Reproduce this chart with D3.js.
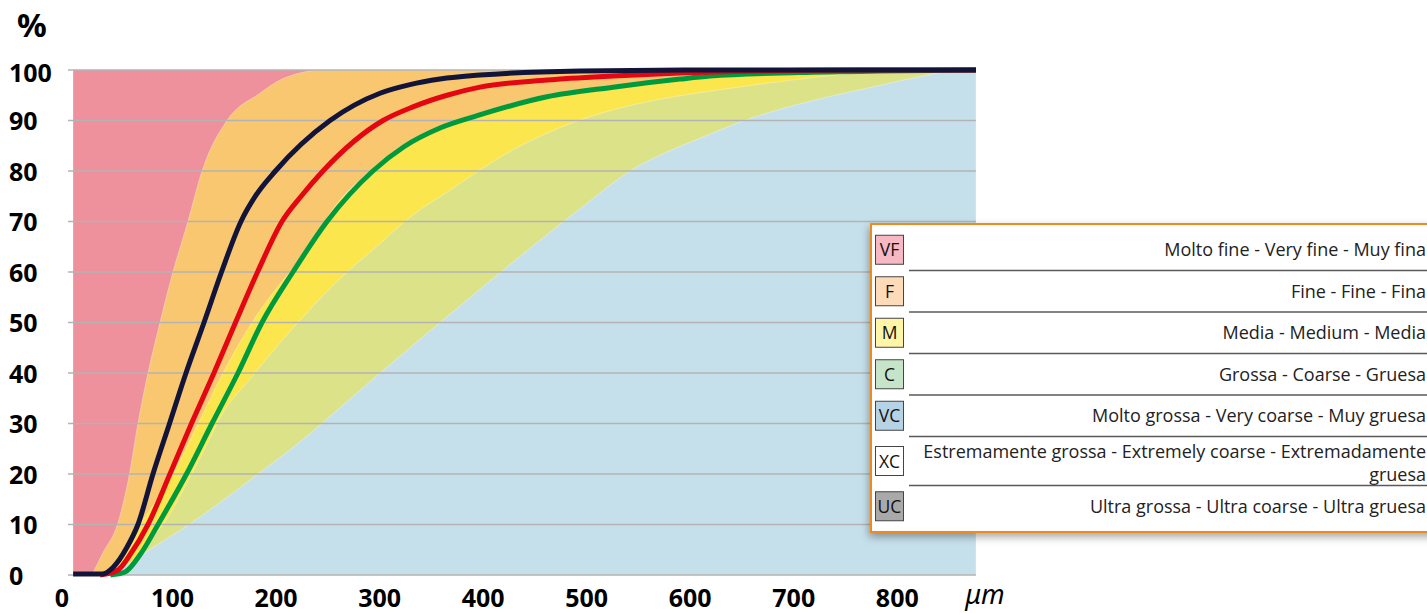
<!DOCTYPE html>
<html>
<head>
<meta charset="utf-8">
<script src="https://cdn.jsdelivr.net/npm/d3@7"></script>
<style>
  body { margin: 0; background: #fff; }
  svg { display: block; }
</style>
</head>
<body>
<svg id="chart" width="1427" height="613"></svg>
<script>
// ---- axis ticks -------------------------------------------------------
const xTicks = [0, 100, 200, 300, 400, 500, 600, 700, 800];
const yTicks = [0, 10, 20, 30, 40, 50, 60, 70, 80, 90, 100];

// ---- band edges: [size µm, cumulative %] -------------------------------
// very fine | fine
const edgeVeryFine = [[22.2, 0], [32.8, 4.4], [46.8, 10], [58.4, 20], [66.6, 30], [76.3, 40], [87.9, 50],
  [100.4, 60], [114.9, 70], [128.5, 80], [152.6, 90], [184.5, 95.4], [203.8, 98], [223.1, 99.4],
  [244.3, 100], [876, 100]];
// fine | medium
const edgeFine = [[37.7, 0], [42.5, 1.6], [54.1, 5], [68.6, 10], [85, 15], [101.4, 20.4], [124.6, 29.9],
  [148.7, 40], [176.7, 50], [213.4, 60], [232.8, 64.4], [247.2, 70], [290.6, 80], [321.6, 84.8],
  [356.4, 88.5], [393.1, 91], [459.7, 94.7], [523.5, 96.6], [588.2, 98.2], [617.2, 98.8], [704, 99.5],
  [781.3, 99.8], [876, 100]];
// medium | coarse
const edgeMedium = [[43.5, 0], [56, 1.6], [73.4, 5.9], [90.8, 10], [116.9, 19.4], [135.2, 26.7], [142.9, 30],
  [179.6, 40], [221.2, 50], [268.5, 60], [293.6, 64.4], [332.2, 71.3], [365.1, 75.8], [396.9, 80.2],
  [428.8, 84.2], [461.7, 87.5], [493.5, 90.1], [525.4, 92.1], [558.2, 93.7], [590.1, 94.9], [619.1, 95.8],
  [667.4, 97.2], [706, 98.2], [761.1, 99.4], [802.6, 99.9], [876, 100]];
// coarse | very coarse
const edgeCoarse = [[42, 0], [73.4, 4.4], [115.9, 10], [182.5, 20], [213.4, 24.8], [300.4, 40], [358.3, 50],
  [417.2, 60], [454.9, 66.3], [498.4, 73.3], [541.8, 80], [582.4, 84.2], [614.3, 86.9], [648.1, 89.7],
  [706, 93.3], [770.7, 96.4], [834.5, 99.2], [855.7, 100], [876, 100]];

// ---- reference grading curves ----------------------------------------
const curveDark = [[4, 0.2], [32, 0.2], [42.5, 1.5], [56, 5.5], [66.6, 10], [81.1, 20], [97.1, 30], [113, 40],
  [130.4, 50], [147.3, 60], [166.1, 70], [180.6, 75.2], [199.4, 80], [252.1, 90], [300.4, 95.4],
  [329.3, 97.1], [358.3, 98.2], [396.9, 99], [493.5, 99.8], [609.4, 100], [876, 100]];
const curveRed = [[30, 0], [47.3, 1], [58.9, 4], [76.3, 10], [97.5, 20], [118.3, 30], [140, 40], [160.8, 50],
  [182.1, 60], [205.7, 70], [225, 75.2], [245.3, 80], [303.3, 90], [332.2, 92.7], [365.1, 95], [397, 96.6],
  [461.7, 98], [525.4, 98.8], [590.1, 99.4], [667.4, 99.8], [764, 100], [876, 100]];
const curveGreen = [[40, 0], [54.1, 0.6], [68.6, 4], [86, 10], [113.5, 20], [138.1, 30], [163.2, 40], [186.4, 50],
  [216.3, 60], [249.2, 70], [293.5, 80], [323.5, 84.8], [358.3, 88.5], [395, 91], [461.7, 94.7],
  [525.4, 96.6], [590.1, 98.2], [619.1, 98.8], [706, 99.5], [783.3, 99.8], [876, 100]];

// ---- legend -----------------------------------------------------------
const legendCodes = ["VF", "F", "M", "C", "VC", "XC", "UC"];
const legendNames = [
  ["Molto fine - Very fine - Muy fina"],
  ["Fine - Fine - Fina"],
  ["Media - Medium - Media"],
  ["Grossa - Coarse - Gruesa"],
  ["Molto grossa - Very coarse - Muy gruesa"],
  ["Estremamente grossa - Extremely coarse - Extremadamente", "gruesa"],
  ["Ultra grossa - Ultra coarse - Ultra gruesa"]
];
const legendColors = ["#f6b8c3", "#fddab8", "#fff5a8", "#c6e4c8", "#b6d2e5", "#ffffff", "#a9a9a9"];

// ---- drawing -----------------------------------------------------------
const svg = d3.select("#chart");
const x = d3.scaleLinear().domain([0, 876]).range([69, 976]);
const y = d3.scaleLinear().domain([0, 100]).range([575, 70]);
const xStart = 4, xEnd = 876;
const smooth = d3.curveMonotoneX;

const defs = svg.append("defs");
const shadow = defs.append("filter").attr("id", "legendShadow")
  .attr("x", "-10%").attr("y", "-10%").attr("width", "120%").attr("height", "130%");
shadow.append("feDropShadow").attr("dx", -1).attr("dy", 4).attr("stdDeviation", 4)
  .attr("flood-color", "#000").attr("flood-opacity", 0.35);

const plot = svg.append("g");

// finest band fills the whole plot, coarser bands are stacked under each edge
plot.append("rect")
  .attr("x", x(xStart)).attr("y", y(100))
  .attr("width", x(xEnd) - x(xStart)).attr("height", y(0) - y(100))
  .attr("fill", "#ee919c");

const band = d3.area()
  .x(d => x(d[0]))
  .y0(y(0))
  .y1(d => y(d[1]))
  .curve(smooth);

[[edgeVeryFine, "#f8c76f"], [edgeFine, "#fce64e"], [edgeMedium, "#dce288"], [edgeCoarse, "#c6e0eb"]]
  .forEach(([pts, col]) => {
    plot.append("path").attr("d", band(pts)).attr("fill", col)
      .attr("stroke", "rgba(255,255,255,0.4)").attr("stroke-width", 0.8);
  });

// horizontal grid
plot.append("g").selectAll("line").data(yTicks).join("line")
  .attr("x1", 68).attr("x2", x(xEnd))
  .attr("y1", d => y(d)).attr("y2", d => y(d))
  .attr("stroke", "#b3b3b3").attr("stroke-width", 1.5);

// curves
const line = d3.line().x(d => x(d[0])).y(d => y(d[1])).curve(smooth);
[[curveGreen, "#009a3e"], [curveRed, "#e30613"], [curveDark, "#13143a"]].forEach(([pts, col]) => {
  plot.append("path").attr("d", line(pts)).attr("fill", "none")
    .attr("stroke", col).attr("stroke-width", 5).attr("stroke-linejoin", "round");
});

// y axis labels
svg.append("g").selectAll("text").data(yTicks).join("text")
  .attr("x", 9).attr("y", d => y(d) + (d === 100 ? 11.5 : 9.5))
  .attr("font-family", "'Noto Sans', 'Open Sans', sans-serif")
  .attr("font-weight", "bold").attr("font-size", 25).attr("fill", "#000")
  .text(d => d);

svg.append("text").attr("x", 32).attr("y", 37).attr("text-anchor", "middle")
  .attr("font-family", "'Noto Sans', 'Open Sans', sans-serif")
  .attr("font-weight", "bold").attr("font-size", 33).attr("fill", "#000")
  .text("%");

// x axis labels
svg.append("g").selectAll("text").data(xTicks).join("text")
  .attr("x", d => x(d) - (d === 0 ? 7 : 0)).attr("y", 607).attr("text-anchor", "middle")
  .attr("font-family", "'Noto Sans', 'Open Sans', sans-serif")
  .attr("font-weight", "bold").attr("font-size", 25).attr("fill", "#000")
  .text(d => d);

svg.append("text").attr("x", 985).attr("y", 604).attr("text-anchor", "middle")
  .attr("font-family", "'Noto Sans', 'DejaVu Sans', sans-serif")
  .attr("font-style", "italic").attr("font-size", 27).attr("fill", "#000")
  .text("μm");

// legend
const lg = svg.append("g");
lg.append("rect").attr("x", 871).attr("y", 224).attr("width", 600).attr("height", 308)
  .attr("fill", "#fff").attr("stroke", "#f08a1d").attr("stroke-width", 2)
  .attr("filter", "url(#legendShadow)");

let rowTop = 229;
legendCodes.forEach((code, i) => {
  const lines = legendNames[i];
  const h = lines.length > 1 ? 49 : 41.5;
  const cy = rowTop + h / 2;
  lg.append("rect").attr("x", 875.5).attr("y", cy - 14.5).attr("width", 28).attr("height", 29)
    .attr("fill", legendColors[i]).attr("stroke", "#444").attr("stroke-width", 1);
  lg.append("text").attr("x", 889.5).attr("y", cy + 6.5).attr("text-anchor", "middle")
    .attr("font-family", "'Open Sans', 'Noto Sans', sans-serif").attr("font-size", 17.5)
    .attr("fill", "#111").text(code);
  const t = lg.append("text").attr("text-anchor", "end")
    .attr("font-family", "'Open Sans', 'Noto Sans', sans-serif").attr("font-size", 18)
    .attr("fill", "#222");
  lines.forEach((s, j) => {
    t.append("tspan").attr("x", 1426)
      .attr("y", cy + 6.5 + (j - (lines.length - 1) / 2) * 23 + (lines.length > 1 ? 1.5 : 0)).text(s);
  });
  if (i < legendCodes.length - 1) {
    lg.append("line").attr("x1", 909).attr("x2", 1427)
      .attr("y1", rowTop + h).attr("y2", rowTop + h)
      .attr("stroke", "#5a5a5a").attr("stroke-width", 1.6);
  }
  rowTop += h;
});
</script>
</body>
</html>
